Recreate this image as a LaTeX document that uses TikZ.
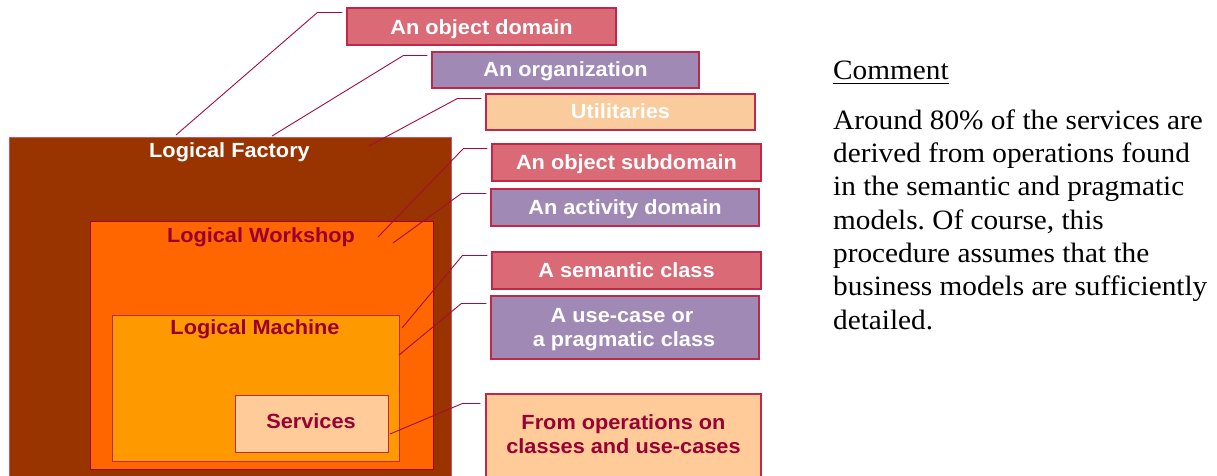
\documentclass[tikz,border=0pt]{standalone}
\usepackage{fontspec}
\setmainfont{Liberation Serif}
\newfontfamily\labelfont[FakeStretch=1.06]{Liberation Sans}
\newfontfamily\notefont[FakeStretch=1.045]{Liberation Serif}
\usetikzlibrary{fit,calc}

\definecolor{factoryfill}{RGB}{153,51,0}
\definecolor{workshopfill}{RGB}{255,102,0}
\definecolor{machinefill}{RGB}{255,153,0}
\definecolor{peachfill}{RGB}{255,204,153}
\definecolor{utilfill}{RGB}{250,203,156}
\definecolor{labred}{RGB}{217,106,118}
\definecolor{labpurple}{RGB}{160,137,181}
\definecolor{darkred}{RGB}{153,0,51}
\definecolor{edgered}{RGB}{192,40,74}
\definecolor{linkred}{RGB}{165,12,60}

\tikzset{
  area/.style={draw=edgered, line width=1pt, inner sep=0pt},
  tagbox/.style={draw=edgered, line width=1.1pt, inner sep=0pt},
  areatext/.style={anchor=base, inner sep=0pt, font=\labelfont\bfseries\fontsize{20.5}{24}\selectfont},
  tagtext/.style={anchor=base, inner sep=0pt, text=white, font=\labelfont\bfseries\fontsize{20.5}{24}\selectfont},
  notetext/.style={anchor=base west, inner sep=0pt, font=\notefont\frenchspacing\fontsize{28}{33}\selectfont},
  link/.style={draw=linkred, line width=0.9pt},
}

\begin{document}
\begin{tikzpicture}[x=1pt,y=-1pt]
\useasboundingbox (0,0) rectangle (1217,475);
\clip (0,0) rectangle (1217,475);

% nested logical areas
\node[area, fill=factoryfill, draw=edgered!80!white, fit={(9,137)(451,482)}] (factory) {};
\node[area, fill=workshopfill, draw=darkred!90!red, fit={(90,221)(433,469)}] (workshop) {};
\node[area, fill=machinefill, draw=edgered, fit={(112,315)(399,461)}] (machine) {};
\node[area, fill=peachfill, draw=edgered, fit={(235,395)(388,452)}] (services) {};

\node[areatext, text=white] (tfactory) at (229.5,157) {Logical Factory};
\node[areatext, text=darkred] (tworkshop) at (261,242) {Logical Workshop};
\node[areatext, text=darkred] (tmachine) at (255,334) {Logical Machine};
\node[areatext, text=darkred] (tservices) at (311,428) {Services};

% tag boxes on the right
\node[tagbox, fill=labred,    fit={(347,8)(616,45)}]    (b1) {};
\node[tagbox, fill=labpurple, fit={(432,52)(699,88)}]   (b2) {};
\node[tagbox, fill=utilfill,  fit={(486,94)(755,130)}]  (b3) {};
\node[tagbox, fill=labred,    fit={(492,144)(761,181)}] (b4) {};
\node[tagbox, fill=labpurple, fit={(491,189)(759,226)}] (b5) {};
\node[tagbox, fill=labred,    fit={(492,252)(761,289)}] (b6) {};
\node[tagbox, fill=labpurple, fit={(491,296)(759,359)}] (b7) {};
\node[tagbox, fill=peachfill, fit={(486,394)(761,490)}] (b8) {};

\node[tagtext] (t1) at (481.5,34) {An object domain};
\node[tagtext] (t2) at (565.5,76.5) {An organization};
\node[tagtext] (t3) at (620.5,118.5) {Utilitaries};
\node[tagtext] (t4) at (626.5,169) {An object subdomain};
\node[tagtext] (t5) at (625,214.5) {An activity domain};
\node[tagtext] (t6) at (626.5,277) {A semantic class};
\node[tagtext] (t7a) at (622,322) {A use-case or};
\node[tagtext] (t7b) at (624,346) {a pragmatic class};
\node[tagtext, text=darkred] (t8a) at (623.5,429) {From operations on};
\node[tagtext, text=darkred] (t8b) at (623.5,453) {classes and use-cases};

% points inside the areas that the tags refer to
\coordinate (e1) at (176,135);
\coordinate (e2) at (272,136);
\coordinate (e3) at (369,146);
\coordinate (e4) at (378,237);
\coordinate (e5) at (393,243);
\coordinate (e6) at (402,328);
\coordinate (e7) at (399,355);
\coordinate (e8) at (390,434);

\draw[link] ([shift={(-4,5)}]b1.north west) -- ++(-25,0) -- (e1);
\draw[link] ([shift={(-4,4)}]b2.north west) -- ++(-24,0) -- (e2);
\draw[link] ([shift={(-4,5)}]b3.north west) -- ++(-24,0) -- (e3);
\draw[link] ([shift={(-4,5)}]b4.north west) -- ++(-24,0) -- (e4);
\draw[link] ([shift={(-4,5)}]b5.north west) -- ++(-25,0) -- (e5);
\draw[link] ([shift={(-4,4)}]b6.north west) -- ++(-25,0) -- (e6);
\draw[link] ([shift={(-4,8)}]b7.north west) -- ++(-25,0) -- (e7);
\draw[link] ([shift={(-5,10)}]b8.north west) -- ++(-18,0) -- (e8);

% comment column
\node[notetext] (cm) at (833,79.7) {Comment};
\draw[line width=1.5pt] ([yshift=-3.6pt]cm.base west) -- ([yshift=-3.6pt]cm.base east);
\node[notetext] (c1) at (833,129)   {Around 80\% of the services are};
\node[notetext] (c2) at (833,162.3) {derived from operations found};
\node[notetext] (c3) at (833,195.6) {in the semantic and pragmatic};
\node[notetext] (c4) at (833,229)   {models. Of course, this};
\node[notetext] (c5) at (833,262.3) {procedure assumes that the};
\node[notetext] (c6) at (833,295.6) {business models are sufficiently};
\node[notetext] (c7) at (833,329)   {detailed.};
\end{tikzpicture}
\end{document}
